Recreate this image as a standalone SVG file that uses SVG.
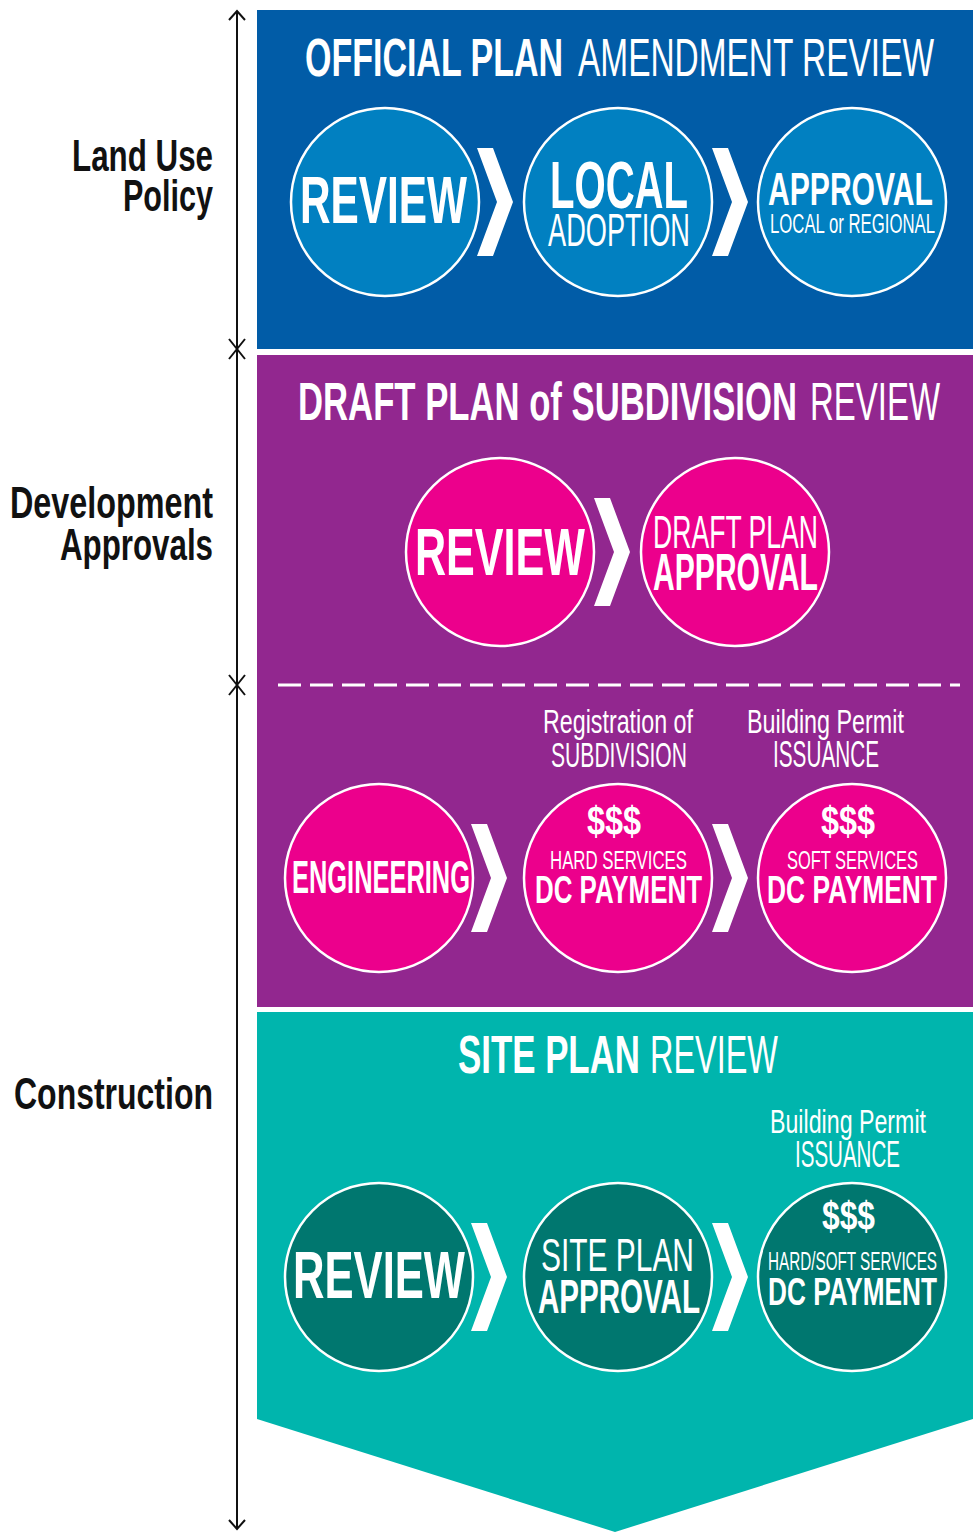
<svg xmlns="http://www.w3.org/2000/svg" width="973" height="1532" viewBox="0 0 973 1532">
  <style>
    text { font-family: "Liberation Sans", Arial, sans-serif; }
    .w { fill: #ffffff; }
    .b { font-weight: bold; }
    .lbl { font-weight: bold; fill: #111111; }
    .ring { stroke: #ffffff; stroke-width: 2.5; }
    .blueC { fill: #0180c1; }
    .pinkC { fill: #ec008c; }
    .tealC { fill: #00776f; }
    .axis { stroke: #111111; stroke-width: 2; fill: none; }
  </style>
  <defs>
    <path id="chev" d="M0,0 L16,0 L36,54 L16,108 L0,108 L20,54 Z" fill="#ffffff"/>
  </defs>

  <rect width="973" height="1532" fill="#ffffff"/>

  <!-- Lettering is set at its natural width and stretched upward about the
       baseline (matrix(1 0 0 k 0 y(1-k))) to get the tall condensed look. -->

  <!-- stage panels -->
  <g id="panel-land-use">
    <rect x="257" y="10" width="716" height="339" fill="#015ca7"/>
    <text class="w b" x="305" y="76" font-size="33.9" textLength="258" lengthAdjust="spacingAndGlyphs" transform="matrix(1 0 0 1.594 0 -45.14)">OFFICIAL PLAN</text>
    <text class="w" x="578" y="76" font-size="33.4" textLength="356" lengthAdjust="spacingAndGlyphs" transform="matrix(1 0 0 1.619 0 -47.04)">AMENDMENT REVIEW</text>
  </g>
  <g id="panel-development">
    <rect x="257" y="355" width="716" height="652" fill="#92278f"/>
    <text class="w b" x="298" y="420" font-size="34.68" textLength="499" lengthAdjust="spacingAndGlyphs" transform="matrix(1 0 0 1.528 0 -221.76)">DRAFT PLAN of SUBDIVISION</text>
    <text class="w" x="810" y="420" font-size="32.95" textLength="130" lengthAdjust="spacingAndGlyphs" transform="matrix(1 0 0 1.609 0 -255.78)">REVIEW</text>
    <line x1="278" y1="685" x2="960" y2="685" stroke="#ffffff" stroke-width="3" stroke-dasharray="23 9"/>
    <text class="w" x="543" y="733" font-size="23.27" textLength="150" lengthAdjust="spacingAndGlyphs" transform="matrix(1 0 0 1.459 0 -336.45)">Registration of</text>
    <text class="w" x="551" y="767" font-size="21.1" textLength="136" lengthAdjust="spacingAndGlyphs" transform="matrix(1 0 0 1.706 0 -541.5)">SUBDIVISION</text>
    <text class="w" x="747" y="733" font-size="23.35" textLength="157" lengthAdjust="spacingAndGlyphs" transform="matrix(1 0 0 1.453 0 -332.05)">Building Permit</text>
    <text class="w" x="773" y="767" font-size="20.74" textLength="106" lengthAdjust="spacingAndGlyphs" transform="matrix(1 0 0 1.736 0 -564.51)">ISSUANCE</text>
  </g>
  <g id="panel-construction">
    <path d="M257,1012 L973,1012 L973,1419 L615,1532 L257,1419 Z" fill="#00b5ad"/>
    <text class="w b" x="458" y="1073" font-size="34.85" textLength="182" lengthAdjust="spacingAndGlyphs" transform="matrix(1 0 0 1.521 0 -559.03)">SITE PLAN</text>
    <text class="w" x="650" y="1073" font-size="32.45" textLength="128" lengthAdjust="spacingAndGlyphs" transform="matrix(1 0 0 1.634 0 -680.28)">REVIEW</text>
    <text class="w" x="770" y="1133" font-size="23.2" textLength="156" lengthAdjust="spacingAndGlyphs" transform="matrix(1 0 0 1.463 0 -524.58)">Building Permit</text>
    <text class="w" x="795" y="1167" font-size="20.54" textLength="105" lengthAdjust="spacingAndGlyphs" transform="matrix(1 0 0 1.753 0 -878.75)">ISSUANCE</text>
  </g>

  <!-- timeline axis with phase labels -->
  <g id="axis">
    <line class="axis" x1="237" y1="11" x2="237" y2="1529"/>
    <polyline class="axis" points="229,20 237,11 245,20"/>
    <polyline class="axis" points="229,339 237,349 245,339"/>
    <polyline class="axis" points="229,359 237,349 245,359"/>
    <polyline class="axis" points="229,675 237,685 245,675"/>
    <polyline class="axis" points="229,695 237,685 245,695"/>
    <polyline class="axis" points="229,1520 237,1529 245,1520"/>
  </g>
  <g id="label-land-use">
    <text class="lbl" x="72" y="171" font-size="31.33" textLength="141" lengthAdjust="spacingAndGlyphs" transform="matrix(1 0 0 1.404 0 -69.08)">Land Use</text>
    <text class="lbl" x="123" y="211" font-size="30.55" textLength="90" lengthAdjust="spacingAndGlyphs" transform="matrix(1 0 0 1.44 0 -92.84)">Policy</text>
  </g>
  <g id="label-development">
    <text class="lbl" x="10" y="518" font-size="32.33" textLength="203" lengthAdjust="spacingAndGlyphs" transform="matrix(1 0 0 1.361 0 -187)">Development</text>
    <text class="lbl" x="60" y="560" font-size="31.29" textLength="153" lengthAdjust="spacingAndGlyphs" transform="matrix(1 0 0 1.406 0 -227.36)">Approvals</text>
  </g>
  <g id="label-construction">
    <text class="lbl" x="14" y="1109" font-size="31.98" textLength="199" lengthAdjust="spacingAndGlyphs" transform="matrix(1 0 0 1.376 0 -416.98)">Construction</text>
  </g>

  <!-- official plan amendment steps -->
  <g id="opa-review">
    <circle class="ring blueC" cx="385" cy="202" r="94"/>
    <text class="w b" x="300" y="223" font-size="42.33" textLength="167" lengthAdjust="spacingAndGlyphs" transform="matrix(1 0 0 1.583 0 -130.01)">REVIEW</text>
  </g>
  <g id="opa-adoption">
    <circle class="ring blueC" cx="618" cy="202" r="94"/>
    <text class="w b" x="550" y="208" font-size="40.07" textLength="138" lengthAdjust="spacingAndGlyphs" transform="matrix(1 0 0 1.672 0 -139.78)">LOCAL</text>
    <text class="w" x="548" y="246" font-size="27.19" textLength="142" lengthAdjust="spacingAndGlyphs" transform="matrix(1 0 0 1.692 0 -170.23)">ADOPTION</text>
  </g>
  <g id="opa-approval">
    <circle class="ring blueC" cx="852" cy="202" r="94"/>
    <text class="w b" x="768" y="205" font-size="29.7" textLength="165" lengthAdjust="spacingAndGlyphs" transform="matrix(1 0 0 1.549 0 -112.55)">APPROVAL</text>
    <text class="w" x="770" y="233" font-size="16.68" textLength="165" lengthAdjust="spacingAndGlyphs" transform="matrix(1 0 0 1.679 0 -158.21)">LOCAL or REGIONAL</text>
  </g>

  <!-- draft plan of subdivision steps -->
  <g id="dp-review">
    <circle class="ring pinkC" cx="500" cy="552" r="94"/>
    <text class="w b" x="415" y="575" font-size="43.09" textLength="170" lengthAdjust="spacingAndGlyphs" transform="matrix(1 0 0 1.555 0 -319.13)">REVIEW</text>
  </g>
  <g id="dp-approval">
    <circle class="ring pinkC" cx="735" cy="552" r="94"/>
    <text class="w" x="653" y="548" font-size="26.51" textLength="165" lengthAdjust="spacingAndGlyphs" transform="matrix(1 0 0 1.735 0 -402.78)">DRAFT PLAN</text>
    <text class="w b" x="653" y="590" font-size="29.7" textLength="165" lengthAdjust="spacingAndGlyphs" transform="matrix(1 0 0 1.751 0 -443.09)">APPROVAL</text>
  </g>
  <g id="dp-engineering">
    <circle class="ring pinkC" cx="379" cy="878" r="94"/>
    <text class="w b" x="292" y="893" font-size="25.43" textLength="178" lengthAdjust="spacingAndGlyphs" transform="matrix(1 0 0 1.81 0 -723.33)">ENGINEERING</text>
  </g>
  <g id="dp-hard-dc">
    <circle class="ring pinkC" cx="618" cy="878" r="94"/>
    <text class="w b" x="587" y="835" font-size="32.37" textLength="54" lengthAdjust="spacingAndGlyphs" transform="matrix(1 0 0 1.236 0 -197.06)">$$$</text>
    <text class="w" x="550" y="869" font-size="16.77" textLength="137" lengthAdjust="spacingAndGlyphs" transform="matrix(1 0 0 1.551 0 -478.82)">HARD SERVICES</text>
    <text class="w b" x="535" y="903" font-size="25.26" textLength="167" lengthAdjust="spacingAndGlyphs" transform="matrix(1 0 0 1.544 0 -491.23)">DC PAYMENT</text>
  </g>
  <g id="dp-soft-dc">
    <circle class="ring pinkC" cx="852" cy="878" r="94"/>
    <text class="w b" x="821" y="835" font-size="32.37" textLength="54" lengthAdjust="spacingAndGlyphs" transform="matrix(1 0 0 1.236 0 -197.06)">$$$</text>
    <text class="w" x="787" y="869" font-size="16.37" textLength="131" lengthAdjust="spacingAndGlyphs" transform="matrix(1 0 0 1.589 0 -511.84)">SOFT SERVICES</text>
    <text class="w b" x="767" y="903" font-size="25.71" textLength="170" lengthAdjust="spacingAndGlyphs" transform="matrix(1 0 0 1.517 0 -466.85)">DC PAYMENT</text>
  </g>

  <!-- site plan steps -->
  <g id="sp-review">
    <circle class="ring tealC" cx="379" cy="1277" r="94"/>
    <text class="w b" x="293" y="1298" font-size="43.6" textLength="172" lengthAdjust="spacingAndGlyphs" transform="matrix(1 0 0 1.537 0 -697.03)">REVIEW</text>
  </g>
  <g id="sp-approval">
    <circle class="ring tealC" cx="618" cy="1277" r="94"/>
    <text class="w" x="541" y="1271" font-size="29.92" textLength="153" lengthAdjust="spacingAndGlyphs" transform="matrix(1 0 0 1.571 0 -725.74)">SITE PLAN</text>
    <text class="w b" x="538" y="1313" font-size="29.16" textLength="162" lengthAdjust="spacingAndGlyphs" transform="matrix(1 0 0 1.68 0 -892.84)">APPROVAL</text>
  </g>
  <g id="sp-dc">
    <circle class="ring tealC" cx="852" cy="1277" r="94"/>
    <text class="w b" x="822" y="1230" font-size="31.77" textLength="53" lengthAdjust="spacingAndGlyphs" transform="matrix(1 0 0 1.259 0 -318.57)">$$$</text>
    <text class="w" x="768" y="1270" font-size="15.21" textLength="169" lengthAdjust="spacingAndGlyphs" transform="matrix(1 0 0 1.71 0 -901.7)">HARD/SOFT SERVICES</text>
    <text class="w b" x="768" y="1305" font-size="25.56" textLength="169" lengthAdjust="spacingAndGlyphs" transform="matrix(1 0 0 1.526 0 -686.43)">DC PAYMENT</text>
  </g>

  <!-- step-to-step chevrons -->
  <g id="connectors">
    <use href="#chev" x="477" y="148"/>
    <use href="#chev" x="712" y="148"/>
    <use href="#chev" x="594" y="498"/>
    <use href="#chev" x="471" y="824"/>
    <use href="#chev" x="712" y="824"/>
    <use href="#chev" x="471" y="1223"/>
    <use href="#chev" x="712" y="1223"/>
  </g>
</svg>
